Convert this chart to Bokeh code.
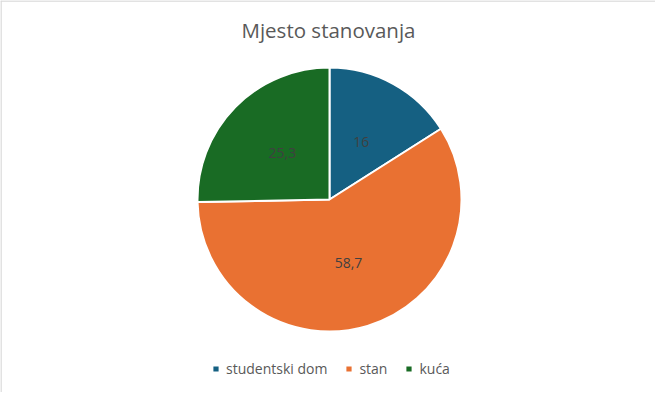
import math
from bokeh.plotting import figure
from bokeh.models import ColumnDataSource, Range1d, Label, Legend, LegendItem, Span
from bokeh.core.properties import value
from bokeh.embed import file_html
from bokeh.resources import INLINE

TITLE = "Mjesto stanovanja"
categories = ["studentski dom", "stan", "kuća"]
values = [16, 58.7, 25.3]
labels = ["16", "58,7", "25,3"]
colors = ["#156082", "#E97132", "#196B24"]

W, H = 655, 392
CX, CY, R = 329, 193, 132

total = sum(values)
starts, ends, lx, ly = [], [], [], []
cum = 0.0
for v in values:
    a0 = math.pi / 2 - 2 * math.pi * cum / total
    a1 = math.pi / 2 - 2 * math.pi * (cum + v) / total
    mid = (a0 + a1) / 2
    starts.append(a1)
    ends.append(a0)
    lx.append(CX + 0.5 * R * math.cos(mid))
    ly.append(CY + 0.5 * R * math.sin(mid))
    cum += v

src = ColumnDataSource(dict(cat=categories, val=values, start=starts, end=ends,
                            color=colors, lx=lx, ly=ly, lab=labels))

p = figure(width=W, height=H, output_backend="svg", toolbar_location=None,
           x_range=Range1d(0, W), y_range=Range1d(0, H),
           x_axis_location=None, y_axis_location=None, min_border=0)
p.grid.visible = False
p.outline_line_color = None
p.background_fill_color = "white"
p.border_fill_color = "white"

# chart area border (top and left)
p.add_layout(Span(location=0.5, dimension="height", line_color="#D9D9D9", line_width=1.5))
p.add_layout(Span(location=H - 0.5, dimension="width", line_color="#D9D9D9", line_width=1.5))

wr = p.wedge(x=CX, y=CY, radius=R, start_angle="start", end_angle="end",
             fill_color="color", line_color="white", line_width=2, source=src)

p.text(x="lx", y="ly", text="lab", source=src, text_align="center", text_baseline="middle",
       text_font=value("Open Sans"), text_font_size="14px", text_color="#404040")

p.add_layout(Label(x=CX - 1, y=363, text=TITLE, text_align="center", text_baseline="middle",
                   text_font="Open Sans", text_font_size="20.5px", text_color="#595959"))

items = [LegendItem(label=c, renderers=[wr], index=i) for i, c in enumerate(categories)]
legend = Legend(items=items, orientation="horizontal", location=(211, 14),
                glyph_width=9, glyph_height=9, label_height=14, label_standoff=6,
                spacing=17, padding=0, margin=0, border_line_color=None,
                background_fill_alpha=0,
                label_text_font="Open Sans", label_text_font_size="14px",
                label_text_color="#595959")
p.add_layout(legend, "center")

open("out.html", "w").write(file_html(p, INLINE))
